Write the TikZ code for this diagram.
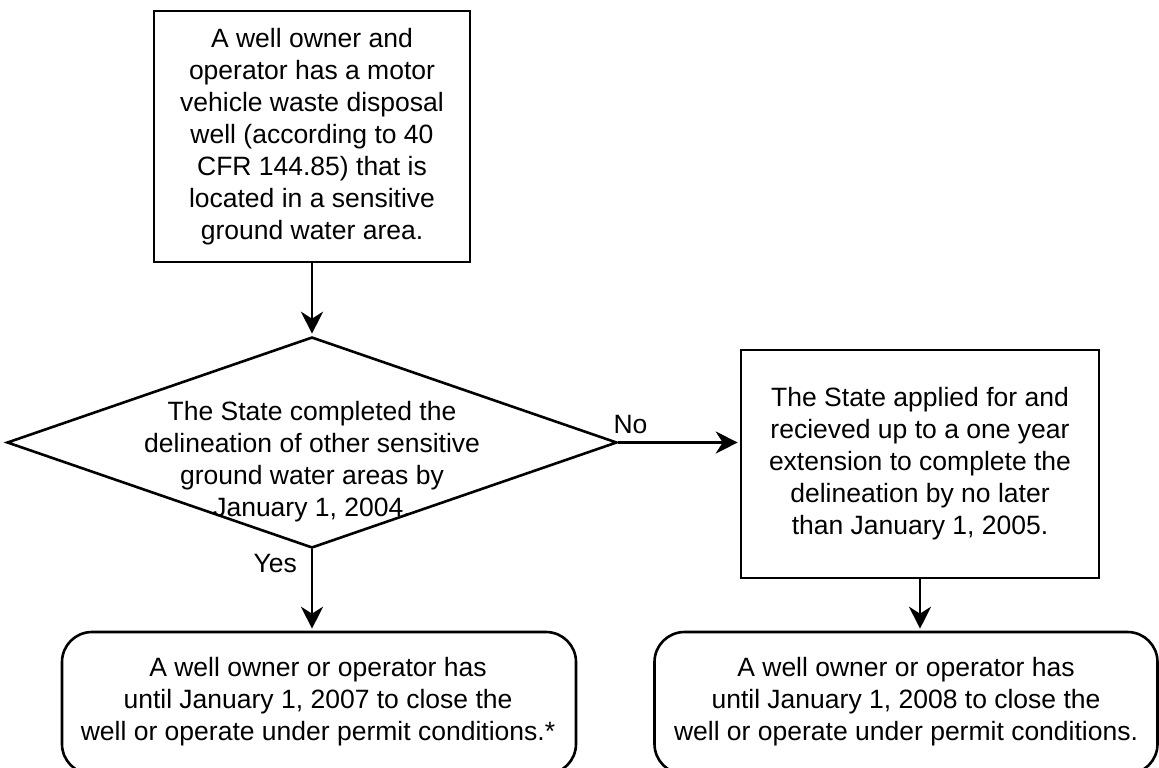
\documentclass[tikz,border=0pt]{standalone}
\usepackage{fontspec}
\setmainfont{Liberation Sans}
\usetikzlibrary{shapes.geometric,arrows.meta}
\begin{document}
\begin{tikzpicture}[x=1pt,y=-1pt,
  every node/.style={font=\fontsize{26.5}{32}\selectfont, align=center, inner sep=0pt},
  box/.style={draw, line width=2.6pt},
  rbox/.style={draw, line width=2.6pt, rounded corners=30pt},
  conn/.style={line width=2.4pt, shorten >=2pt, -{Stealth[length=22pt,width=22pt,inset=7pt]}},
  lab/.style={font=\fontsize{26.5}{30}\selectfont}]
\useasboundingbox (0,0) rectangle (1159,768);
\begin{scope}
\clip (0,0) rectangle (1159,768);
\node[box, minimum width=316pt, minimum height=251pt] (top) at (312,136.5)
  {A well owner and\\operator has a motor\\vehicle waste disposal\\well (according to 40\\CFR 144.85) that is\\located in a sensitive\\ground water area.};
\node[box, diamond, minimum width=610pt, minimum height=211pt, aspect=2.89] (dec) at (312,442.5) {};
\node (dectext) at (312,462) {The State completed the\\delineation of other sensitive\\ground water areas by\\January 1, 2004.};
\node[box, minimum width=358pt, minimum height=228pt] (ext) at (920,464)
  {The State applied for and\\recieved up to a one year\\extension to complete the\\delineation by no later\\than January 1, 2005.};
\node[rbox, minimum width=514pt, minimum height=142pt] (bl) at (319,703) {};
\node (bltext) at (318,702) {A well owner or operator has\\until January 1, 2007 to close the\\well or operate under permit conditions.*};
\node[rbox, minimum width=503pt, minimum height=142pt] (br) at (906,703) {};
\node (brtext) at (906,702) {A well owner or operator has\\until January 1, 2008 to close the\\well or operate under permit conditions.};
\end{scope}
\draw[conn] (top.south) -- (dec.north);
\draw[conn] (dec.south) -- node[lab, pos=0.18, left=14pt] {Yes} (dec.south |- bl.north);
\draw[conn] (dec.east) -- node[lab, pos=0.1, above=8pt] {No} (dec.east -| ext.west);
\draw[conn] (ext.south) -- (ext.south |- br.north);
\end{tikzpicture}
\end{document}
